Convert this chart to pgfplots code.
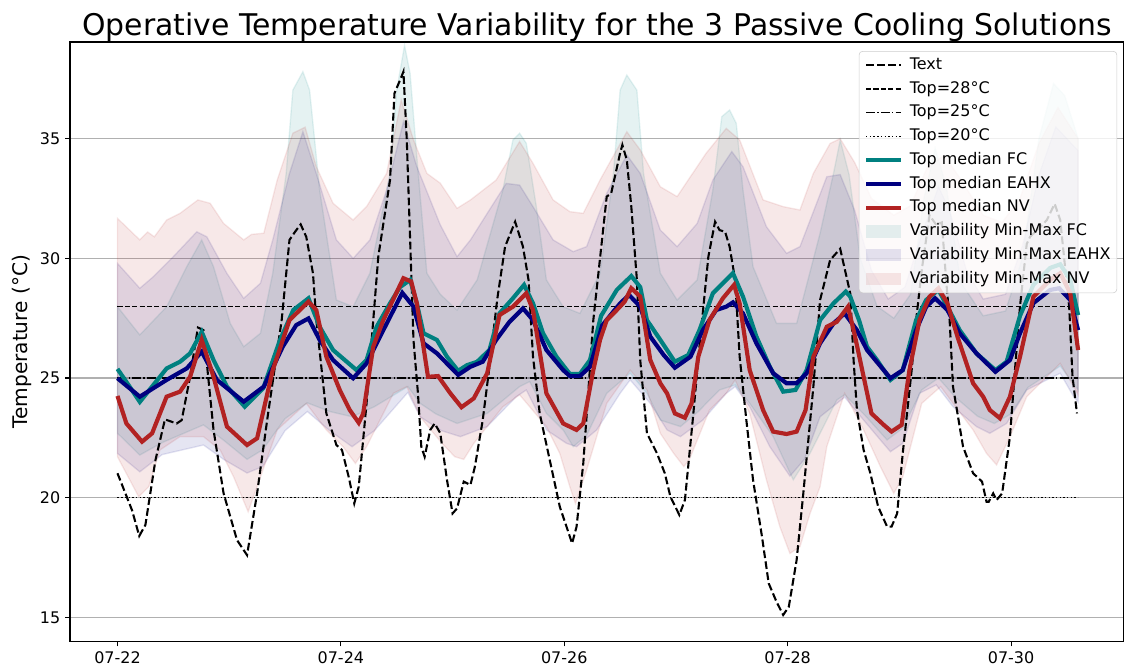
\documentclass[border=0pt]{standalone}
\usepackage{fontspec}
\setmainfont{DejaVu Sans}
\usepackage{pgfplots}
\pgfplotsset{compat=1.18}
\usepgfplotslibrary{fillbetween}
\definecolor{fc}{RGB}{0,128,128}
\definecolor{eahx}{RGB}{0,0,128}
\definecolor{nv}{RGB}{178,34,34}
\definecolor{gridgray}{RGB}{176,176,176}
\begin{document}
\begin{tikzpicture}
\begin{axis}[name=ax, at={(0,0)}, anchor=south west, scale only axis,
  width=758.88pt, height=431.64pt,
  xmin=-0.425, xmax=9.011, ymin=13.99, ymax=39.04,
  xtick={0,2,4,6,8}, xticklabels={07-22,07-24,07-26,07-28,07-30},
  ytick={15,20,25,30,35},
  tick pos=left, tick align=outside, major tick length=3.5pt,
  every tick/.style={black, line width=0.8pt},
  axis line style={line width=0.8pt},
  ymajorgrids, grid style={gridgray, line width=0.8pt},
  ticklabel style={font=\fontsize{11.5}{13}\selectfont},
  /pgf/number format/assume math mode=true,
  ylabel={Temperature (°C)},
  every axis y label/.style={at={(rel axis cs:0,0.5)}, xshift=-34.6pt, rotate=90, anchor=center, font=\fontsize{14.5}{16}\selectfont},
  title={Operative Temperature Variability for the 3 Passive Cooling Solutions},
  every axis title/.style={at={(rel axis cs:0.5,1)}, anchor=base, yshift=4.5pt, font=\fontsize{21.5}{25}\selectfont},
  legend cell align=left,
  legend style={at={(rel axis cs:1,1)}, anchor=north east, xshift=-5pt, yshift=-6.5pt,
    draw=black!20, rounded corners=2.5pt, fill=white, fill opacity=0.8, draw opacity=1, text opacity=1,
    font=\fontsize{11.5}{13}\selectfont, inner sep=3.5pt, row sep=4.1pt, column sep=4pt,
    nodes={inner sep=1pt, text height=8.5pt, text depth=2.5pt}},
  legend image code/.code={\draw[#1, rounded corners=0pt] (0pt,0pt) -- (25pt,0pt);},
]
% Text
\addplot[black, line width=1.5pt, dash pattern=on 5.55pt off 2.4pt, forget plot] table {
x y
0.00 21.02
0.13 19.48
0.195 18.4
0.25 18.86
0.34 21.57
0.425 23.27
0.53 23.1
0.575 23.24
0.65 25.05
0.72 27.11
0.77 27.0
0.86 22.83
0.95 20.18
1.07 18.23
1.16 17.6
1.25 20.18
1.34 23.24
1.47 27.42
1.54 30.77
1.59 31.11
1.64 31.42
1.69 30.9
1.75 29.38
1.78 27.42
1.87 23.52
1.96 22.2
2.01 21.99
2.07 20.87
2.12 19.76
2.16 20.46
2.23 23.94
2.29 27.42
2.335 30.07
2.44 33.27
2.48 36.9
2.53 37.45
2.56 37.8
2.59 34.95
2.65 26.59
2.69 24.36
2.72 22.13
2.75 21.71
2.80 22.83
2.84 23.1
2.89 22.69
2.95 20.74
3.00 19.34
3.04 19.55
3.10 20.67
3.16 20.53
3.20 21.3
3.27 23.24
3.33 25.47
3.40 28.3
3.47 30.49
3.56 31.53
3.63 30.49
3.68 29.1
3.72 25.89
3.78 23.52
3.87 21.57
3.96 19.62
4.07 18.09
4.11 18.79
4.17 21.43
4.26 27.42
4.38 32.58
4.42 32.72
4.50 34.4
4.52 34.74
4.56 34.11
4.60 32.16
4.65 29.1
4.68 25.75
4.74 22.69
4.83 21.85
4.90 21.02
4.95 20.04
5.03 19.28
5.08 19.9
5.15 23.24
5.21 26.31
5.29 30.07
5.35 31.53
5.39 31.18
5.44 31.11
5.48 30.49
5.53 29.1
5.57 25.89
5.63 23.24
5.69 20.74
5.77 18.37
5.83 16.42
5.90 15.65
5.96 15.1
6.01 15.44
6.08 17.39
6.14 20.18
6.23 24.64
6.29 28.26
6.38 29.93
6.47 30.4
6.56 28.54
6.59 25.75
6.62 23.66
6.68 21.99
6.74 21.02
6.81 19.62
6.89 18.79
6.93 18.79
6.98 19.34
7.03 21.85
7.11 25.33
7.15 27.42
7.20 29.5
7.27 31.8
7.33 31.4
7.38 31.5
7.42 29.0
7.45 27.4
7.48 24.64
7.57 22.13
7.66 21.02
7.74 20.67
7.78 19.83
7.80 19.83
7.84 20.18
7.87 19.9
7.92 20.18
7.99 22.55
8.03 25.05
8.08 28.0
8.14 30.6
8.17 30.9
8.26 31.3
8.32 31.6
8.39 32.28
8.44 31.6
8.52 27.98
8.55 25.05
8.59 23.52
};
% reference lines
\addplot[black, line width=1pt, dash pattern=on 3.7pt off 1.6pt, forget plot] coordinates {(0,28) (8.6,28)};
\addplot[black, line width=1pt, dash pattern=on 6.4pt off 1.6pt on 1pt off 1.6pt, forget plot] coordinates {(0,25) (8.6,25)};
\addplot[black, line width=1pt, dash pattern=on 1pt off 1.65pt, forget plot] coordinates {(0,20) (8.6,20)};
% medians
\addplot[fc, line width=3pt, forget plot] table {
x y
0.00 25.38
0.10 24.7
0.20 24.0
0.32 24.7
0.44 25.4
0.56 25.68
0.65 26.03
0.754 26.93
0.86 25.75
0.98 24.64
1.14 23.8
1.305 24.57
1.455 26.59
1.574 27.84
1.71 28.33
1.81 27.14
1.93 26.17
2.14 25.33
2.23 25.75
2.32 27.14
2.44 28.12
2.53 28.8
2.62 29.1
2.68 28.12
2.74 26.87
2.86 26.59
2.95 25.89
3.05 25.3
3.13 25.54
3.22 25.68
3.33 26.17
3.42 27.7
3.54 28.33
3.64 28.89
3.72 28.12
3.81 26.87
3.93 25.89
4.05 25.17
4.14 25.17
4.23 25.75
4.33 27.6
4.47 28.68
4.60 29.26
4.68 28.8
4.74 27.42
4.86 26.59
4.99 25.68
5.11 25.96
5.21 27.0
5.33 28.54
5.42 28.96
5.51 29.38
5.60 28.4
5.72 26.73
5.84 25.47
5.96 24.43
6.07 24.5
6.17 25.33
6.29 27.42
6.41 28.12
6.52 28.61
6.56 28.4
6.64 27.4
6.71 26.31
6.80 25.75
6.92 24.92
7.03 25.33
7.15 27.42
7.24 28.26
7.35 28.68
7.43 27.98
7.54 27.0
7.69 26.03
7.86 25.33
7.96 25.68
8.08 27.6
8.20 28.9
8.35 29.6
8.44 29.75
8.53 29.1
8.60 27.63
};
\addplot[eahx, line width=3pt, forget plot] table {
x y
0.00 24.99
0.20 24.22
0.44 24.92
0.62 25.4
0.754 26.1
0.89 24.92
1.13 24.01
1.31 24.64
1.48 26.31
1.60 27.21
1.71 27.49
1.81 26.59
1.93 25.75
2.11 24.99
2.23 25.61
2.38 27.0
2.55 28.56
2.65 27.98
2.74 26.45
2.86 26.03
3.05 25.13
3.16 25.47
3.27 25.68
3.39 26.59
3.51 27.35
3.63 27.91
3.72 27.42
3.84 26.17
3.99 25.33
4.05 25.08
4.14 25.08
4.23 25.47
4.34 27.2
4.50 28.12
4.58 28.47
4.68 27.98
4.77 26.73
4.89 25.96
4.99 25.43
5.13 25.89
5.24 27.0
5.36 27.84
5.45 27.98
5.51 28.16
5.60 27.7
5.72 26.45
5.87 25.2
5.99 24.78
6.08 24.78
6.17 25.2
6.29 26.45
6.41 27.28
6.51 27.7
6.62 27.0
6.71 26.17
6.92 24.99
7.03 25.33
7.15 27.0
7.24 27.98
7.32 28.33
7.43 27.84
7.54 26.87
7.69 26.03
7.86 25.26
7.99 25.75
8.08 26.87
8.20 28.13
8.35 28.68
8.43 28.75
8.53 28.26
8.60 27.0
};
\addplot[nv, line width=3pt, forget plot] table {
x y
0.00 24.25
0.08 23.1
0.22 22.34
0.31 22.69
0.44 24.22
0.56 24.43
0.65 25.05
0.754 26.59
0.86 25.05
0.98 22.97
1.16 22.2
1.25 22.48
1.39 25.33
1.54 27.42
1.71 28.19
1.78 27.84
1.87 25.89
1.99 24.5
2.08 23.66
2.16 23.13
2.20 23.52
2.29 26.31
2.38 27.42
2.56 29.17
2.63 29.03
2.68 28.12
2.78 25.05
2.87 25.08
2.98 24.36
3.08 23.78
3.19 24.15
3.31 25.2
3.42 27.63
3.54 27.98
3.66 28.54
3.72 27.84
3.84 24.36
3.99 23.1
4.11 22.83
4.17 23.1
4.26 25.33
4.32 26.59
4.38 27.42
4.47 27.84
4.54 28.19
4.60 28.75
4.68 28.4
4.77 25.75
4.86 24.78
4.92 24.36
4.99 23.52
5.08 23.34
5.14 23.94
5.20 25.89
5.30 27.42
5.42 28.33
5.52 28.89
5.57 28.12
5.66 25.33
5.78 23.66
5.87 22.76
5.99 22.66
6.08 22.76
6.16 23.66
6.23 25.89
6.35 27.14
6.44 27.35
6.54 27.98
6.60 26.8
6.75 23.52
6.86 23.04
6.93 22.76
7.02 23.04
7.09 25.33
7.18 27.42
7.27 28.4
7.35 28.75
7.43 28.12
7.52 26.73
7.66 24.78
7.75 24.22
7.81 23.66
7.90 23.32
7.99 24.22
8.08 25.89
8.20 28.4
8.35 29.1
8.44 29.38
8.53 28.54
8.60 26.17
};
% bands
\addplot[draw=none, name path=fcU, forget plot] table {
x y
0.00 27.98
0.20 26.8
0.44 27.98
0.62 29.65
0.754 30.77
0.86 29.65
1.01 27.28
1.13 26.31
1.28 26.87
1.39 29.38
1.51 33.55
1.57 37.03
1.66 37.8
1.72 37.03
1.81 32.86
1.96 28.26
2.11 27.98
2.26 29.38
2.44 33.55
2.50 37.03
2.57 38.9
2.62 37.72
2.68 34.25
2.77 29.38
2.89 28.5
3.04 27.84
3.22 29.1
3.45 32.86
3.54 34.95
3.60 35.23
3.66 34.81
3.75 32.16
3.84 29.1
3.99 27.98
4.14 27.7
4.32 29.38
4.44 33.55
4.50 37.03
4.56 37.66
4.65 37.03
4.71 33.55
4.86 29.38
5.01 28.26
5.19 29.1
5.33 32.86
5.41 35.92
5.48 36.2
5.54 35.64
5.60 32.86
5.69 29.65
5.90 27.28
6.08 27.28
6.29 31.05
6.41 33.55
6.47 34.95
6.55 33.5
6.65 30.0
6.80 28.0
6.95 27.5
7.10 28.5
7.22 32.5
7.32 34.6
7.42 33.0
7.55 29.0
7.75 27.6
7.95 27.8
8.10 30.0
8.25 35.0
8.38 37.3
8.48 36.8
8.60 35.0
};
\addplot[draw=none, name path=fcL, forget plot] table {
x y
0.00 22.69
0.20 21.78
0.40 22.3
0.77 23.04
0.95 22.4
1.16 21.6
1.30 22.0
1.50 23.3
1.70 23.96
1.90 23.6
2.10 23.38
2.30 23.8
2.60 24.64
2.71 23.94
2.85 23.5
3.04 23.1
3.31 23.52
3.60 24.64
3.69 24.85
3.84 23.52
3.99 22.83
4.08 22.13
4.20 22.6
4.38 24.36
4.59 25.2
4.74 24.36
4.86 23.24
5.04 22.97
5.20 23.6
5.39 24.5
5.53 24.71
5.66 23.94
5.87 22.55
6.05 20.74
6.20 21.85
6.44 24.08
6.51 24.3
6.68 23.5
6.89 22.41
7.03 22.9
7.20 24.5
7.35 25.0
7.50 24.2
7.70 23.4
7.85 23.1
8.00 23.5
8.15 24.6
8.44 25.5
8.60 24.5
};
\addplot[draw=none, name path=eaU, forget plot] table {
x y
0.00 29.79
0.20 28.75
0.32 29.23
0.50 30.07
0.71 31.11
0.80 30.9
0.98 29.37
1.13 28.33
1.28 28.96
1.39 30.77
1.54 33.55
1.66 35.29
1.78 33.55
1.96 30.77
2.11 30.0
2.26 30.77
2.41 32.86
2.56 35.71
2.68 33.83
2.89 31.4
3.04 30.07
3.16 30.77
3.31 31.88
3.48 33.13
3.60 33.06
3.72 32.16
3.90 30.77
4.08 30.28
4.20 30.49
4.38 32.72
4.56 34.32
4.68 33.55
4.86 31.18
5.01 30.49
5.19 31.46
5.33 33.27
5.50 34.46
5.60 33.83
5.81 31.32
5.99 30.21
6.11 30.49
6.35 33.41
6.47 33.5
6.60 32.0
6.75 29.5
6.90 28.3
7.05 28.8
7.20 31.0
7.35 33.0
7.45 32.0
7.60 29.5
7.75 28.3
7.95 28.5
8.10 30.5
8.25 33.5
8.40 35.5
8.60 34.5
};
\addplot[draw=none, name path=eaL, forget plot] table {
x y
0.00 21.85
0.20 21.08
0.40 21.8
0.77 22.2
0.95 21.6
1.16 21.03
1.30 21.3
1.50 22.8
1.70 23.6
1.90 22.8
2.10 22.13
2.30 22.8
2.60 24.4
2.71 23.38
2.90 22.8
3.07 22.55
3.31 22.97
3.57 24.22
3.66 24.5
3.84 22.83
4.02 22.27
4.11 22.13
4.29 22.83
4.50 24.36
4.59 24.92
4.77 23.94
4.92 22.83
5.04 22.55
5.24 23.24
5.45 24.36
5.53 24.64
5.66 23.8
5.84 22.13
6.02 20.9
6.15 21.6
6.29 23.38
6.51 24.2
6.68 23.24
6.83 22.41
6.92 21.92
7.03 22.27
7.18 24.36
7.33 24.71
7.48 23.8
7.69 22.97
7.81 22.69
7.96 23.1
8.14 24.5
8.44 25.2
8.56 24.22
8.60 24.0
};
\addplot[draw=none, name path=nvU, forget plot] table {
x y
0.00 31.67
0.20 30.77
0.27 31.1
0.33 30.9
0.44 31.6
0.56 31.88
0.72 32.44
0.83 32.3
0.95 31.46
1.13 30.77
1.20 31.0
1.31 31.05
1.43 33.27
1.57 35.23
1.68 35.48
1.78 33.83
1.93 32.3
2.11 31.6
2.23 32.16
2.41 33.55
2.54 36.62
2.65 34.95
2.77 33.55
2.89 33.14
3.04 32.09
3.16 32.44
3.39 33.27
3.60 34.88
3.72 33.97
3.90 32.44
4.05 31.95
4.17 31.88
4.32 33.27
4.56 35.29
4.68 34.53
4.86 32.99
5.01 32.58
5.27 34.39
5.45 35.43
5.57 34.95
5.78 32.44
5.96 32.16
6.11 32.02
6.23 33.55
6.38 34.8
6.47 35.0
6.60 34.0
6.75 32.5
6.95 31.8
7.10 32.2
7.25 33.8
7.40 34.3
7.55 33.3
7.75 31.8
7.92 31.5
8.08 32.5
8.25 34.8
8.42 36.3
8.60 35.0
};
\addplot[draw=none, name path=nvL, forget plot] table {
x y
0.00 21.71
0.19 20.04
0.28 20.46
0.38 21.99
0.56 22.55
0.77 22.55
0.92 21.99
1.04 20.87
1.17 19.41
1.28 20.87
1.43 22.83
1.69 23.94
1.87 22.83
2.02 22.13
2.13 21.43
2.23 22.13
2.47 24.36
2.59 24.64
2.71 23.38
2.90 22.3
3.02 21.71
3.10 21.6
3.19 22.27
3.45 23.8
3.60 24.3
3.84 22.97
3.96 21.85
4.05 20.46
4.10 19.76
4.20 21.16
4.38 23.94
4.59 25.33
4.74 24.5
4.86 22.69
4.98 21.85
5.07 21.3
5.12 21.6
5.30 23.66
5.45 24.36
5.53 24.92
5.66 23.52
5.81 20.74
5.93 18.79
6.02 17.67
6.11 17.95
6.20 19.34
6.29 20.46
6.35 22.13
6.51 24.36
6.68 22.83
6.83 21.3
6.95 20.18
7.03 20.87
7.20 23.94
7.37 24.64
7.48 23.94
7.66 22.83
7.78 21.85
7.87 21.37
7.99 22.55
8.14 24.22
8.38 25.33
8.44 25.61
8.56 24.64
8.60 24.3
};
\addplot[fill=fc, fill opacity=0.1, draw=fc, draw opacity=0.1, line width=1pt, forget plot] fill between[of=fcU and fcL];
\addplot[fill=eahx, fill opacity=0.1, draw=eahx, draw opacity=0.1, line width=1pt, forget plot] fill between[of=eaU and eaL];
\addplot[fill=nv, fill opacity=0.1, draw=nv, draw opacity=0.1, line width=1pt, forget plot] fill between[of=nvU and nvL];
% legend
\addlegendimage{black, line width=1.5pt, dash pattern=on 5.55pt off 2.4pt}
\addlegendentry{Text}
\addlegendimage{black, line width=1pt, dash pattern=on 3.7pt off 1.6pt}
\addlegendentry{Top=28°C}
\addlegendimage{black, line width=1pt, dash pattern=on 6.4pt off 1.6pt on 1pt off 1.6pt}
\addlegendentry{Top=25°C}
\addlegendimage{black, line width=1pt, dash pattern=on 1pt off 1.65pt}
\addlegendentry{Top=20°C}
\addlegendimage{fc, line width=3pt}
\addlegendentry{Top median FC}
\addlegendimage{eahx, line width=3pt}
\addlegendentry{Top median EAHX}
\addlegendimage{nv, line width=3pt}
\addlegendentry{Top median NV}
\addlegendimage{legend image code/.code={\path[draw=none, fill=fc, fill opacity=0.1, rounded corners=0pt] (0pt,-4.5pt) rectangle (25pt,4.5pt);}}
\addlegendentry{Variability Min-Max FC}
\addlegendimage{legend image code/.code={\path[draw=none, fill=eahx, fill opacity=0.1, rounded corners=0pt] (0pt,-4.5pt) rectangle (25pt,4.5pt);}}
\addlegendentry{Variability Min-Max EAHX}
\addlegendimage{legend image code/.code={\path[draw=none, fill=nv, fill opacity=0.1, rounded corners=0pt] (0pt,-4.5pt) rectangle (25pt,4.5pt);}}
\addlegendentry{Variability Min-Max NV}
\end{axis}
\pgfresetboundingbox
\path[use as bounding box] ([xshift=-50.4pt,yshift=-18.36pt]ax.south west) rectangle ([yshift=30.24pt]ax.north east);
\end{tikzpicture}
\end{document}
